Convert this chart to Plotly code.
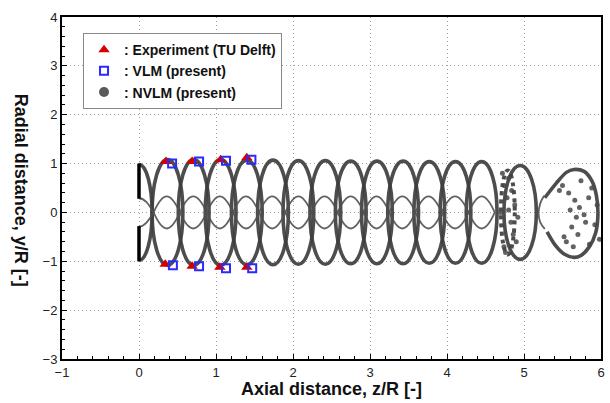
import plotly.graph_objects as go

# ---------------- data ----------------
# Experiment (TU Delft) tip-vortex positions
exp_z = [0.35, 0.69, 1.06, 1.40, 0.34, 0.69, 1.05, 1.40]
exp_y = [1.04, 1.04, 1.08, 1.12, -1.06, -1.10, -1.12, -1.12]
# VLM (present)
vlm_z = [0.43, 0.78, 1.13, 1.46, 0.44, 0.78, 1.13, 1.47]
vlm_y = [1.00, 1.04, 1.06, 1.08, -1.08, -1.10, -1.14, -1.14]

# NVLM (present) tip-vortex loops: axial centre, half width, radius
tip_z = [0.37, 0.71, 1.06, 1.40, 1.74, 2.07, 2.42, 2.75, 3.09, 3.43, 3.77, 4.11, 4.45, 4.95]
tip_w = [0.20, 0.20, 0.20, 0.20, 0.20, 0.20, 0.20, 0.20, 0.20, 0.20, 0.20, 0.20, 0.20, 0.21]
tip_r = [1.08, 1.08, 1.08, 1.07, 1.07, 1.06, 1.06, 1.05, 1.05, 1.05, 1.04, 1.04, 1.04, 0.96]
# tip vortex just behind the blade (half loop)
tip0_z, tip0_w, tip0_r = 0.0, 0.17, 0.98
# break-down loop with clumps
clump_loop_z, clump_loop_w, clump_loop_r = 4.79, 0.09, 0.86

# NVLM root-vortex crossing points and lens radius
root_z = [0.19, 0.53, 0.88, 1.22, 1.56, 1.90, 2.24, 2.58, 2.92, 3.25, 3.59, 3.93, 4.28, 4.62]
root_r = 0.33
root0_r = 0.29

# far-wake outline (z/R, y/R)
far_z = [5.27, 5.42, 5.55, 5.65, 5.78, 5.88, 5.94, 5.96, 5.93, 5.85, 5.74, 5.65, 5.52, 5.40, 5.30]
far_y = [0.30, 0.60, 0.82, 0.88, 0.84, 0.65, 0.35, -0.05, -0.42, -0.70, -0.88, -0.92, -0.85, -0.66, -0.40]
# inner left arc of the far wake
arc_z = [5.26, 5.21, 5.19, 5.21, 5.27]
arc_y = [0.34, 0.18, -0.02, -0.20, -0.34]
# clumps of vortex particles in the break-down region
clump_z = [4.72, 4.74, 4.78, 4.80, 4.83, 4.86, 4.74, 4.76, 4.80, 4.84, 4.88, 4.92, 4.70, 4.90,
           5.50, 5.58, 5.66, 5.72, 5.78, 5.84, 5.62, 5.70, 5.80, 5.88, 5.55, 5.64, 5.74, 5.92,
           5.46, 5.52, 5.95, 5.98, 5.85, 5.60, 5.68]
clump_y = [0.80, 0.55, 0.30, 0.05, -0.20, -0.45, -0.70, -0.82, 0.70, 0.45, 0.15, -0.10, 0.00, -0.60,
           0.55, 0.40, 0.25, 0.10, -0.05, 0.30, -0.30, -0.45, -0.20, 0.50, -0.60, -0.70, 0.65,
           -0.25, 0.45, -0.50, 0.15, -0.55, -0.65, 0.05, -0.10]

# blades
blade_z = 0.0
blade_inner = 0.28
blade_outer = 1.0

# ---------------- figure ----------------
fig = go.Figure()

TIP_COL = "rgba(62,62,62,0.92)"
ROOT_COL = "rgba(80,80,80,0.9)"

shapes = []
for zc, w, r in zip(tip_z, tip_w, tip_r):
    shapes.append(dict(type="circle", xref="x", yref="y",
                       x0=zc - w, x1=zc + w, y0=-r, y1=r,
                       line=dict(color=TIP_COL, width=3.6), layer="between"))
shapes.append(dict(type="circle", xref="x", yref="y",
                   x0=clump_loop_z - clump_loop_w, x1=clump_loop_z + clump_loop_w,
                   y0=-clump_loop_r, y1=clump_loop_r,
                   line=dict(color=TIP_COL, width=4, dash="dot"), layer="between"))

k = 0.5523
p = (f"M {tip0_z},{tip0_r} C {tip0_z + k*tip0_w},{tip0_r} {tip0_z + tip0_w},{k*tip0_r} "
     f"{tip0_z + tip0_w},0 C {tip0_z + tip0_w},{-k*tip0_r} {tip0_z + k*tip0_w},{-tip0_r} "
     f"{tip0_z},{-tip0_r}")
shapes.append(dict(type="path", xref="x", yref="y", path=p,
                   line=dict(color=TIP_COL, width=3.6), layer="between"))

h = 1.33
for a, b in zip(root_z[:-1], root_z[1:]):
    L = b - a
    for s in (1, -1):
        pth = (f"M {a},0 C {a + 0.36*L},{s*h*root_r} {a + 0.64*L},{s*h*root_r} {b},0")
        shapes.append(dict(type="path", xref="x", yref="y", path=pth,
                           line=dict(color=ROOT_COL, width=1.8), layer="between"))
a0 = root_z[0]
for s in (1, -1):
    pth = f"M {blade_z},{s*root0_r} C {0.45*a0},{s*root0_r} {0.75*a0},{s*0.4*root0_r} {a0},0"
    shapes.append(dict(type="path", xref="x", yref="y", path=pth,
                       line=dict(color=ROOT_COL, width=1.8), layer="between"))

for s in (1, -1):
    shapes.append(dict(type="line", xref="x", yref="y",
                       x0=blade_z, x1=blade_z, y0=s*blade_inner, y1=s*blade_outer,
                       line=dict(color="black", width=3.5), layer="above"))

# far-wake outline and clumps (NVLM, no legend entry)
fig.add_trace(go.Scatter(x=far_z, y=far_y, mode="lines", showlegend=False, hoverinfo="skip",
                         line=dict(color=TIP_COL, width=3.6, shape="spline", smoothing=0.8)))
fig.add_trace(go.Scatter(x=arc_z, y=arc_y, mode="lines", showlegend=False, hoverinfo="skip",
                         line=dict(color=ROOT_COL, width=1.8, shape="spline")))
fig.add_trace(go.Scatter(x=clump_z, y=clump_y, mode="markers", showlegend=False, hoverinfo="skip",
                         marker=dict(symbol="circle", size=5, color="rgba(70,70,70,0.85)")))

fig.add_trace(go.Scatter(x=exp_z, y=exp_y, mode="markers", name=": Experiment (TU Delft)",
                         marker=dict(symbol="triangle-up", size=10, color="#d40000",
                                     line=dict(width=0))))
fig.add_trace(go.Scatter(x=vlm_z, y=vlm_y, mode="markers", name=": VLM (present)",
                         marker=dict(symbol="square-open", size=8, color="#2a2aff",
                                     line=dict(width=2, color="#2a2aff"))))
fig.add_trace(go.Scatter(x=[None], y=[None], mode="markers", name=": NVLM (present)",
                         marker=dict(symbol="circle", size=10, color="#5a5a5a")))

axis_common = dict(showline=True, linecolor="black", linewidth=2, mirror=True,
                   showgrid=True, gridcolor="#a0a0a0", griddash="1px,3px", gridwidth=1,
                   zeroline=False, ticks="inside", ticklen=5, tickcolor="black",
                   tickwidth=1, dtick=1,
                   tickfont=dict(family="Liberation Sans", size=13, color="#222"),
                   minor=dict(ticks="inside", ticklen=3, dtick=0.2, tickcolor="black",
                              showgrid=False))

fig.update_xaxes(range=[-1, 6], **axis_common)
fig.update_yaxes(range=[-3, 4], **axis_common)

fig.update_layout(
    width=610, height=403,
    margin=dict(l=62, r=5, t=17, b=44),
    paper_bgcolor="white", plot_bgcolor="white",
    shapes=shapes,
    showlegend=True,
    legend=dict(x=0.039, y=0.953, xanchor="left", yanchor="top",
                bgcolor="white", bordercolor="#888", borderwidth=1,
                font=dict(family="Liberation Sans", size=14, color="#111", weight="bold"),
                itemwidth=30, tracegroupgap=0),
    annotations=[
        dict(text="<b>Axial distance, z/R [-]</b>", xref="paper", yref="paper",
             x=(333 - 62) / 543, y=-(389 - 359) / 342, xanchor="center", yanchor="middle",
             showarrow=False, font=dict(family="Liberation Sans", size=18, color="#111")),
        dict(text="<b>Radial distance, y/R [-]</b>", xref="paper", yref="paper",
             x=(21 - 62) / 543, y=(359 - 190) / 342, xanchor="center", yanchor="middle",
             textangle=90, showarrow=False,
             font=dict(family="Liberation Sans", size=18, color="#111")),
    ],
)

fig.write_html("out.html")
